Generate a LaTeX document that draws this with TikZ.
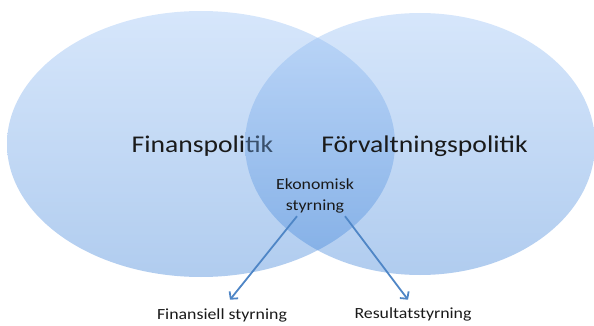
\documentclass[tikz,border=0pt]{standalone}
\usepackage{fontspec}
\setmainfont{Carlito}[FakeStretch=1.15]
\usepackage{xcolor}
\definecolor{blaatop}{HTML}{99C1F5}
\definecolor{blaabund}{HTML}{3A80D7}
\definecolor{pilblaa}{HTML}{4F86C6}
\definecolor{tekstfarve}{HTML}{1A1A1A}
\def\storfont{\fontsize{24}{28}\selectfont}
\def\lillefont{\fontsize{15.5}{21}\selectfont}
\usetikzlibrary{shapes.geometric,arrows.meta,positioning}

\begin{document}
\begin{tikzpicture}[x=1pt,y=-1pt,text=tekstfarve,
	kreds/.style={ellipse,inner sep=0pt,draw=none,top color=blaatop,bottom color=blaabund,fill opacity=0.4},
	pil/.style={pilblaa,line width=1.8pt,-{Straight Barb[length=5pt,width=11pt]}}]
	%%Ramme
	\useasboundingbox (0,0) rectangle (594,326);
	%%Venstre ellipse og tekst
	\node[kreds,minimum width=388pt,minimum height=266pt] (finans) at (201,144) {};
	\node[anchor=base,font=\storfont] (finanstxt) at (202.5,152) {Finanspolitik};
	%%Højre ellipse ovenpå
	\node[kreds,minimum width=350pt,minimum height=262pt] (forv) at (420,144) {};
	\node[anchor=base,font=\storfont] (forvtxt) at (424.5,152) {Förvaltningspolitik};
	%%Fællesmængde
	\node[anchor=base,align=center,font=\lillefont] (eko) at (315,210) {Ekonomisk\\styrning};
	%%Underbegreber
	\node[anchor=base,font=\lillefont] (finst) at (222,319) {Finansiell styrning};
	\node[anchor=base,font=\lillefont] (res) at (413,318) {Resultatstyrning};
	%%Pile
	\draw[pil] ([xshift=-18pt]eko.south) -- ([xshift=8pt,yshift=5pt]finst.north);
	\draw[pil] ([xshift=30pt]eko.south) -- ([xshift=-5pt,yshift=4pt]res.north);
\end{tikzpicture}
\end{document}
